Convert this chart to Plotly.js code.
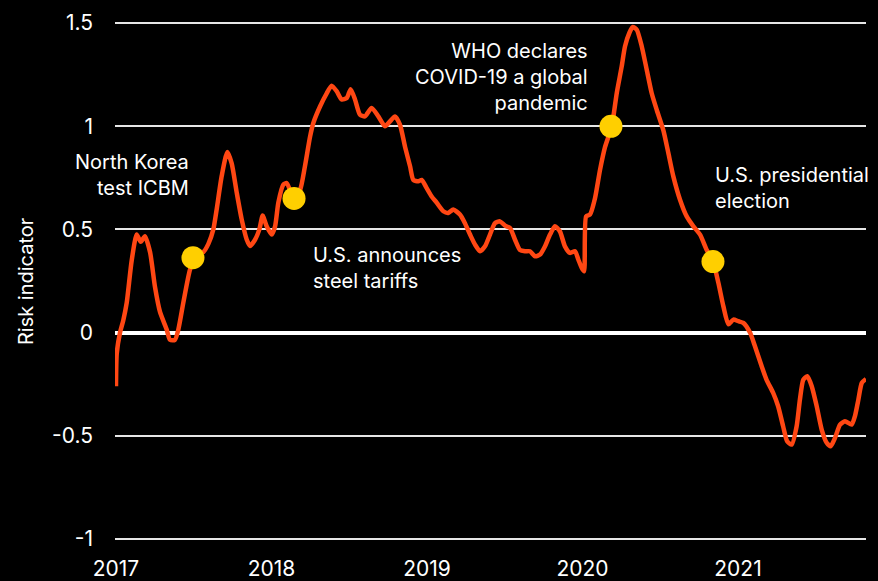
<!DOCTYPE html>
<html>
<head>
<meta charset="utf-8">
<script src="https://cdn.plot.ly/plotly-3.0.1.min.js"></script>
<style>
  html, body { margin: 0; padding: 0; background: #000; }
  #chart { width: 878px; height: 581px; }
</style>
</head>
<body>
<div id="chart"></div>
<script>
// Decimal years and risk indicator values
const years = [
  2017.000, 2017.005, 2017.026, 2017.047, 2017.069, 2017.101, 2017.133, 2017.159, 2017.186, 2017.219,
  2017.251, 2017.283, 2017.326, 2017.347, 2017.379, 2017.401, 2017.433, 2017.476, 2017.519, 2017.561,
  2017.594, 2017.626, 2017.648, 2017.680, 2017.716, 2017.744, 2017.776, 2017.808, 2017.841, 2017.862,
  2017.894, 2017.922, 2017.943, 2017.969, 2018.001, 2018.023, 2018.044, 2018.076, 2018.098, 2018.119,
  2018.140, 2018.183, 2018.215, 2018.248, 2018.269, 2018.312, 2018.355, 2018.387, 2018.419, 2018.451,
  2018.484, 2018.509, 2018.537, 2018.569, 2018.601, 2018.644, 2018.687, 2018.730, 2018.762, 2018.794,
  2018.826, 2018.859, 2018.891, 2018.912, 2018.944, 2018.966, 2018.998, 2019.030, 2019.062, 2019.105,
  2019.137, 2019.169, 2019.212, 2019.244, 2019.277, 2019.309, 2019.341, 2019.373, 2019.405, 2019.437,
  2019.469, 2019.502, 2019.534, 2019.566, 2019.598, 2019.630, 2019.662, 2019.695, 2019.727, 2019.759,
  2019.791, 2019.823, 2019.855, 2019.887, 2019.920, 2019.952, 2019.973, 2019.995, 2020.010, 2020.023,
  2020.048, 2020.080, 2020.113, 2020.145, 2020.188, 2020.220, 2020.252, 2020.273, 2020.301, 2020.323,
  2020.349, 2020.381, 2020.413, 2020.445, 2020.477, 2020.520, 2020.552, 2020.584, 2020.627, 2020.670,
  2020.713, 2020.756, 2020.799, 2020.842, 2020.874, 2020.906, 2020.938, 2020.970, 2021.002, 2021.034,
  2021.077, 2021.109, 2021.152, 2021.183, 2021.226, 2021.258, 2021.290, 2021.316, 2021.345, 2021.377,
  2021.398, 2021.420, 2021.446, 2021.474, 2021.506, 2021.538, 2021.570, 2021.596, 2021.624, 2021.656,
  2021.688, 2021.731, 2021.752, 2021.774, 2021.796, 2021.823
];
const risk = [
  -0.26, -0.10, 0.00, 0.06, 0.145, 0.35, 0.475, 0.44, 0.467, 0.39,
  0.22, 0.10, 0.015, -0.035, -0.035, 0.015, 0.145, 0.305, 0.38, 0.39,
  0.43, 0.50, 0.60, 0.76, 0.875, 0.82, 0.68, 0.55, 0.45, 0.42,
  0.45, 0.50, 0.567, 0.515, 0.475, 0.515, 0.63, 0.717, 0.725, 0.69,
  0.655, 0.69, 0.806, 0.95, 1.016, 1.096, 1.16, 1.197, 1.17, 1.13,
  1.137, 1.18, 1.13, 1.056, 1.048, 1.089, 1.048, 1.00, 1.024, 1.048,
  1.008, 0.90, 0.806, 0.74, 0.733, 0.74, 0.70, 0.66, 0.63, 0.588,
  0.58, 0.596, 0.572, 0.53, 0.475, 0.426, 0.394, 0.418, 0.475, 0.53,
  0.539, 0.518, 0.507, 0.45, 0.40, 0.394, 0.394, 0.37, 0.378, 0.418,
  0.475, 0.515, 0.49, 0.418, 0.386, 0.394, 0.354, 0.313, 0.297, 0.563,
  0.572, 0.65, 0.79, 0.90, 1.00, 1.16, 1.29, 1.387, 1.452, 1.481,
  1.468, 1.387, 1.274, 1.16, 1.08, 0.98, 0.87, 0.757, 0.644, 0.563,
  0.515, 0.475, 0.40, 0.338, 0.24, 0.127, 0.04, 0.063, 0.055, 0.047,
  0.00, -0.066, -0.163, -0.228, -0.292, -0.357, -0.454, -0.527, -0.543, -0.454,
  -0.325, -0.228, -0.212, -0.26, -0.357, -0.47, -0.534, -0.551, -0.51, -0.446,
  -0.43, -0.446, -0.405, -0.325, -0.244, -0.225
];

// Event markers
const eventYears = [2017.495, 2018.145, 2020.183, 2020.839];
const eventRisk = [0.363, 0.65, 1.0, 0.344];
const eventLabels = [
  "North Korea<br>test ICBM",
  "U.S. announces<br>steel tariffs",
  "WHO declares<br>COVID-19 a global<br>pandemic",
  "U.S. presidential<br>election"
];
const labelX = [2017.480, 2018.252, 2020.046, 2020.836];
const labelY = [0.766, 0.315, 1.241, 0.703];
const labelAnchor = ["right", "left", "right", "left"];

const tickYears = [2017, 2018, 2019, 2020, 2021];
const tickYearText = ["2017", "2018", "2019", "2020", "2021"];
const tickRisk = [-1, -0.5, 0, 0.5, 1, 1.5];
const tickRiskText = ["-1", "-0.5", "0", "0.5", "1", "1.5"];

const FONT = "Inter, 'Open Sans', sans-serif";

const traces = [
  {
    x: years, y: risk, type: "scatter", mode: "lines",
    line: { color: "#FF4713", width: 4.5, shape: "spline", smoothing: 0.6 },
    hoverinfo: "skip"
  },
  {
    x: eventYears, y: eventRisk, type: "scatter", mode: "markers",
    marker: { color: "#FFCF00", size: 23, line: { width: 0 } },
    hoverinfo: "skip"
  }
];

const annotations = eventLabels.map((t, i) => ({
  x: labelX[i], y: labelY[i], xref: "x", yref: "y",
  text: t, showarrow: false, xanchor: labelAnchor[i], yanchor: "middle",
  align: labelAnchor[i],
  font: { family: FONT, size: 20, color: "#ffffff" }
}));
annotations.push({
  x: -0.1185, y: 0.5, xref: "paper", yref: "paper",
  text: "Risk indicator", showarrow: false, textangle: -90,
  xanchor: "center", yanchor: "middle",
  font: { family: FONT, size: 20, color: "#ffffff" }
});

const layout = {
  width: 878, height: 581,
  paper_bgcolor: "#000000", plot_bgcolor: "#000000",
  margin: { l: 115, r: 12, t: 19, b: 38, pad: 0 },
  showlegend: false,
  font: { family: FONT, color: "#ffffff" },
  xaxis: {
    range: [2016.9936, 2021.823],
    tickvals: tickYears, ticktext: tickYearText,
    showgrid: false, zeroline: false, showline: false,
    ticks: "", ticklabelstandoff: 11,
    tickfont: { family: FONT, size: 21, color: "#ffffff" },
    fixedrange: true
  },
  yaxis: {
    range: [-1.02, 1.52],
    tickvals: tickRisk, ticktext: tickRiskText,
    showgrid: true, gridcolor: "#e6e6e6", gridwidth: 2,
    zeroline: true, zerolinecolor: "#ffffff", zerolinewidth: 4,
    showline: false, ticks: "", ticklabelstandoff: 21,
    tickfont: { family: FONT, size: 21, color: "#ffffff" },
    fixedrange: true
  },
  annotations: annotations
};

Plotly.newPlot("chart", traces, layout, { displayModeBar: false, staticPlot: true });
</script>
</body>
</html>
